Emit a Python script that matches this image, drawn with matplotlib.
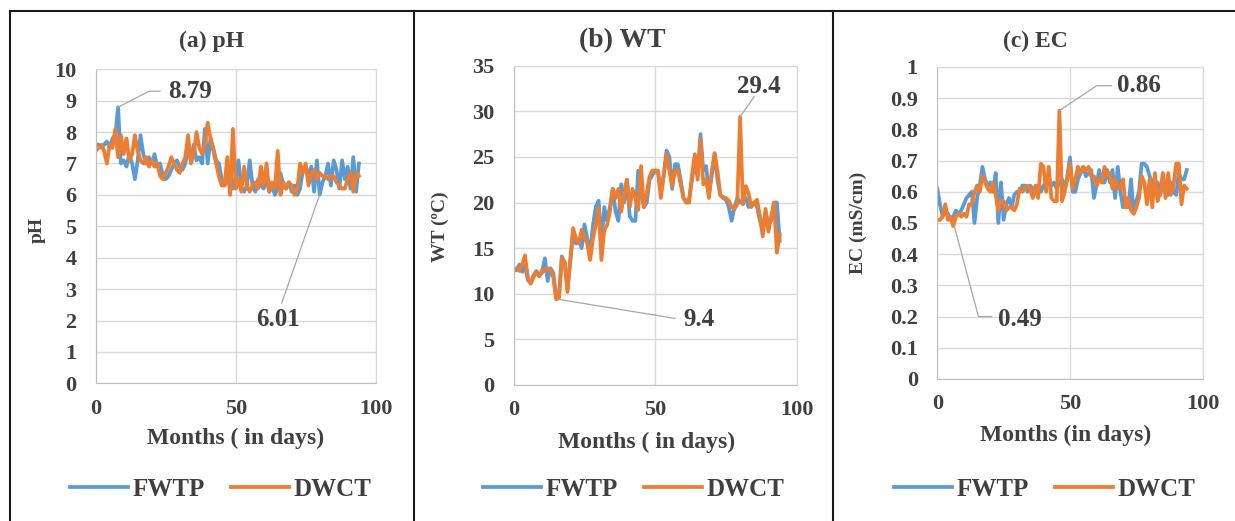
import numpy as np
import matplotlib
matplotlib.use('Agg')
import matplotlib.pyplot as plt
from matplotlib.lines import Line2D

plt.rcParams['font.family'] = ['Liberation Serif', 'DejaVu Serif']
plt.rcParams['font.weight'] = 'bold'

# ---------------- data ----------------
days = list(range(95))

ph_fwtp = [7.6, 7.6, 7.5, 7.6, 7.7, 7.5, 7.8, 7.9, 8.79, 7.0,
           7.1, 6.9, 7.3, 7.0, 6.5, 7.1, 7.9, 7.3, 7.0, 7.2,
           7.0, 7.3, 6.9, 7.0, 6.6, 6.5, 6.6, 6.8, 7.0, 7.1,
           6.9, 6.8, 7.0, 7.5, 7.1, 7.6, 7.1, 7.2, 7.0, 8.1,
           7.0, 7.8, 7.5, 7.1, 7.0, 6.5, 6.3, 6.4, 6.9, 6.2,
           6.5, 7.1, 6.2, 6.1, 6.3, 7.1, 6.3, 6.1, 6.5, 6.3,
           6.2, 6.5, 6.1, 6.3, 6.0, 6.2, 6.7, 6.3, 6.2, 6.4,
           6.1, 6.3, 6.0, 6.2, 6.8, 6.9, 6.6, 6.9, 6.1, 7.1,
           6.01, 6.4, 6.6, 7.0, 6.3, 7.1, 6.8, 6.2, 7.1, 6.5,
           6.9, 6.2, 7.2, 6.1, 7.0]
ph_dwct = [7.4, 7.5, 7.6, 7.4, 7.0, 7.6, 7.5, 8.1, 7.2, 7.9,
           7.3, 7.8, 7.1, 7.3, 7.9, 7.4, 7.1, 7.0, 7.2, 6.9,
           7.1, 6.9, 7.0, 6.6, 6.5, 6.7, 6.9, 7.2, 7.0, 6.8,
           6.7, 7.0, 7.2, 7.9, 7.0, 7.3, 8.0, 7.5, 7.3, 7.6,
           8.3, 7.8, 7.4, 7.0, 6.6, 6.3, 6.3, 7.2, 6.0, 8.1,
           6.2, 6.5, 6.1, 6.9, 6.3, 6.1, 6.3, 6.4, 6.2, 6.9,
           6.3, 7.0, 6.1, 6.4, 6.2, 7.4, 6.0, 6.4, 6.2, 6.4,
           6.3, 6.0, 6.2, 7.0, 6.7, 7.0, 6.3, 6.7, 6.8, 6.5,
           6.7, 6.6, 6.6, 6.5, 6.6, 6.6, 6.4, 6.3, 6.2, 6.2,
           6.5, 6.7, 6.1, 6.7, 6.6]

wt_fwtp = [12.5, 12.6, 13.2, 12.4, 13.0, 11.5, 11.2, 12.0, 12.5, 12.0,
           12.3, 13.9, 11.4, 12.8, 12.3, 9.6, 9.8, 14.1, 13.4, 10.5,
           13.5, 16.8, 15.5, 16.0, 15.0, 17.6, 16.0, 14.5, 17.5, 19.5,
           20.2, 15.5, 19.5, 18.0, 19.5, 21.5, 19.0, 18.0, 22.0, 20.0,
           22.5, 18.5, 18.0, 18.0, 23.5, 21.0, 19.5, 20.0, 22.5, 23.0,
           23.5, 23.3, 21.0, 23.0, 25.7, 25.0, 21.5, 24.2, 24.2, 22.5,
           20.5, 20.0, 20.5, 22.5, 24.5, 23.0, 27.5, 23.5, 24.0, 21.0,
           23.0, 25.4, 22.5, 20.8, 20.5, 20.3, 19.5, 18.0, 19.5, 20.5,
           20.0, 20.3, 20.5, 19.5, 19.8, 20.0, 19.5, 18.0, 17.0, 19.0,
           17.5, 18.0, 20.0, 20.0, 15.8]
wt_dwct = [12.6, 12.8, 12.5, 13.2, 14.2, 11.8, 11.1, 11.8, 12.4, 11.9,
           12.6, 12.5, 12.8, 12.6, 11.8, 9.4, 9.5, 13.9, 13.5, 10.2,
           13.8, 17.2, 16.0, 15.5, 17.0, 16.2, 15.5, 13.7, 16.0, 17.5,
           19.4, 13.7, 17.0, 17.5, 19.0, 21.5, 20.5, 21.5, 19.0, 21.0,
           22.5, 19.5, 21.5, 20.5, 19.2, 24.0, 19.5, 21.0, 22.8, 23.5,
           23.5, 23.5, 20.5, 23.0, 25.3, 23.5, 21.8, 23.5, 23.6, 22.0,
           20.5, 20.0, 20.0, 23.0, 25.3, 22.5, 27.0, 22.0, 22.5, 20.5,
           23.5, 25.4, 23.5, 20.8, 20.6, 20.5, 20.2, 19.5, 19.3, 19.8,
           29.4, 19.8, 21.8, 21.0, 19.5, 20.0, 20.3, 18.5, 16.3, 19.3,
           16.8, 18.5, 20.0, 14.5, 16.5]

ec_fwtp = [0.61, 0.56, 0.52, 0.54, 0.53, 0.51, 0.52, 0.54, 0.53, 0.54,
           0.56, 0.58, 0.59, 0.60, 0.50, 0.58, 0.62, 0.68, 0.64, 0.62,
           0.63, 0.60, 0.66, 0.50, 0.63, 0.51, 0.56, 0.58, 0.55, 0.59,
           0.60, 0.60, 0.62, 0.62, 0.60, 0.62, 0.61, 0.60, 0.62, 0.60,
           0.62, 0.63, 0.64, 0.62, 0.63, 0.61, 0.63, 0.64, 0.61, 0.65,
           0.71, 0.60, 0.60, 0.64, 0.66, 0.68, 0.65, 0.66, 0.67, 0.58,
           0.62, 0.67, 0.63, 0.63, 0.67, 0.63, 0.67, 0.58, 0.68, 0.60,
           0.55, 0.58, 0.55, 0.64, 0.53, 0.57, 0.60, 0.69, 0.69, 0.68,
           0.65, 0.63, 0.60, 0.63, 0.59, 0.62, 0.60, 0.59, 0.63, 0.60,
           0.59, 0.66, 0.64, 0.64, 0.67]
ec_dwct = [0.51, 0.51, 0.52, 0.56, 0.51, 0.52, 0.49, 0.52, 0.53, 0.52,
           0.53, 0.52, 0.56, 0.56, 0.60, 0.62, 0.60, 0.65, 0.63, 0.61,
           0.60, 0.63, 0.59, 0.54, 0.57, 0.57, 0.54, 0.55, 0.55, 0.54,
           0.56, 0.61, 0.60, 0.61, 0.62, 0.61, 0.58, 0.62, 0.58, 0.69,
           0.68, 0.60, 0.68, 0.58, 0.57, 0.57, 0.86, 0.57, 0.60, 0.64,
           0.69, 0.61, 0.64, 0.68, 0.66, 0.68, 0.67, 0.68, 0.65, 0.65,
           0.62, 0.64, 0.63, 0.68, 0.65, 0.66, 0.61, 0.64, 0.61, 0.61,
           0.64, 0.55, 0.58, 0.54, 0.53, 0.55, 0.58, 0.65, 0.63, 0.56,
           0.64, 0.55, 0.66, 0.57, 0.60, 0.66, 0.58, 0.66, 0.59, 0.62,
           0.69, 0.69, 0.56, 0.62, 0.61]

BLUE = '#5B9BD5'
ORANGE = '#ED7D31'
TXT = '#404040'
GRID = '#D9D9D9'

W, H = 1235, 521
fig = plt.figure(figsize=(W / 100, H / 100), dpi=100)


def fx(px):
    return px / W


def fy(py):
    return 1 - py / H


panels = [
    # rect (px): left, top, right, bottom
    dict(rect=(95.7, 69.3, 375.7, 383.3), fw=ph_fwtp, dw=ph_dwct,
         ylim=(0, 10), ystep=1, title='(a) pH', title_x=212, title_size=17,
         ylabel='pH', ylabel_x=37, ylabel_y=230,
         xlabel='Months ( in days)', xlabel_x=236, xlabel_y=438,
         leg_x=221),
    dict(rect=(513.7, 65.7, 796.7, 385.0), fw=wt_fwtp, dw=wt_dwct,
         ylim=(0, 35), ystep=5, title='(b) WT', title_x=622, title_size=20,
         ylabel='WT (ºC)', ylabel_x=440, ylabel_y=227,
         xlabel='Months ( in days)', xlabel_x=647, xlabel_y=442,
         leg_x=634),
    dict(rect=(937.3, 67.0, 1202.7, 379.0), fw=ec_fwtp, dw=ec_dwct,
         ylim=(0, 1), ystep=0.1, title='(c) EC', title_x=1035, title_size=17,
         ylabel='EC (mS/cm)', ylabel_x=858, ylabel_y=223,
         xlabel='Months (in days)', xlabel_x=1066, xlabel_y=435,
         leg_x=1045),
]

axes = []
for p in panels:
    l, t, r, b = p['rect']
    ax = fig.add_axes([fx(l), fy(b), fx(r) - fx(l), fy(t) - fy(b)])
    ax.plot(days, p['fw'], color=BLUE, lw=2.7, label='FWTP')
    ax.plot(days, p['dw'], color=ORANGE, lw=2.7, label='DWCT')
    ax.set_xlim(0, 100)
    ax.set_ylim(*p['ylim'])
    ax.set_xticks([0, 50, 100])
    yt = np.arange(p['ylim'][0], p['ylim'][1] + p['ystep'] / 2, p['ystep'])
    ax.set_yticks(yt)
    ax.set_yticklabels(['{:g}'.format(round(v, 1)) for v in yt])
    ax.grid(True, color=GRID, lw=1)
    ax.set_axisbelow(True)
    for s in ax.spines.values():
        s.set_color(GRID)
    ax.spines['left'].set_color('#BFBFBF')
    ax.spines['bottom'].set_color('#BFBFBF')
    ax.tick_params(length=0, labelsize=16, labelcolor=TXT)
    ax.tick_params(axis='y', pad=14)
    ax.tick_params(axis='x', pad=11)
    for lab in ax.get_xticklabels() + ax.get_yticklabels():
        lab.set_fontweight('bold')

    fig.text(fx(p['title_x']), fy(41), p['title'], ha='center', va='center',
             fontsize=p['title_size'], fontweight='bold', color=TXT)
    fig.text(fx(p['ylabel_x']), fy(p['ylabel_y']), p['ylabel'], rotation=90,
             ha='center', va='center', fontsize=14, fontweight='bold', color=TXT)
    fig.text(fx(p['xlabel_x']), fy(p['xlabel_y']), p['xlabel'], ha='center',
             va='center', fontsize=17, fontweight='bold', color=TXT)
    ax.legend(loc='center', bbox_to_anchor=(fx(p['leg_x']), fy(489)),
              bbox_transform=fig.transFigure, ncol=2, frameon=False,
              handlelength=2.3, handletextpad=0.2, columnspacing=1.05,
              prop=dict(size=18, weight='bold'), labelcolor=TXT)
    axes.append(ax)

# callouts
LEAD = '#A6A6A6'
ann = dict(fontsize=18, fontweight='bold', color=TXT, ha='center', va='center')
axa, axb, axc = axes
axa.plot([8, 19, 23], [8.79, 9.3, 9.3], color=LEAD, lw=0.9)
axa.text(33.7, 9.29, '8.79', **ann)
axa.plot([80, 66.4], [6.01, 2.55], color=LEAD, lw=0.9)
axa.text(65.2, 2.02, '6.01', **ann)

axb.plot([15.5, 57], [9.4, 7.3], color=LEAD, lw=0.9)
axb.text(65.5, 7.2, '9.4', **ann)
axb.plot([80, 85], [29.4, 31.6], color=LEAD, lw=0.9)
axb.text(86.5, 32.7, '29.4', **ann)

axc.plot([46, 60, 65.7], [0.86, 0.94, 0.94], color=LEAD, lw=0.9)
axc.text(76, 0.94, '0.86', **ann)
axc.plot([6.4, 15.5, 20.5], [0.49, 0.2, 0.2], color=LEAD, lw=0.9)
axc.text(31.2, 0.19, '0.49', **ann)

# panel frames
frame = dict(color='#1a1a1a', lw=1.5, transform=fig.transFigure)
fig.add_artist(Line2D([fx(10), fx(1235)], [fy(11), fy(11)], **frame))
fig.add_artist(Line2D([fx(10), fx(10)], [fy(11), 0], **frame))
fig.add_artist(Line2D([fx(414), fx(414)], [fy(11), 0], **frame))
fig.add_artist(Line2D([fx(833), fx(833)], [fy(11), 0], **frame))

fig.savefig('out.png', dpi=100)
